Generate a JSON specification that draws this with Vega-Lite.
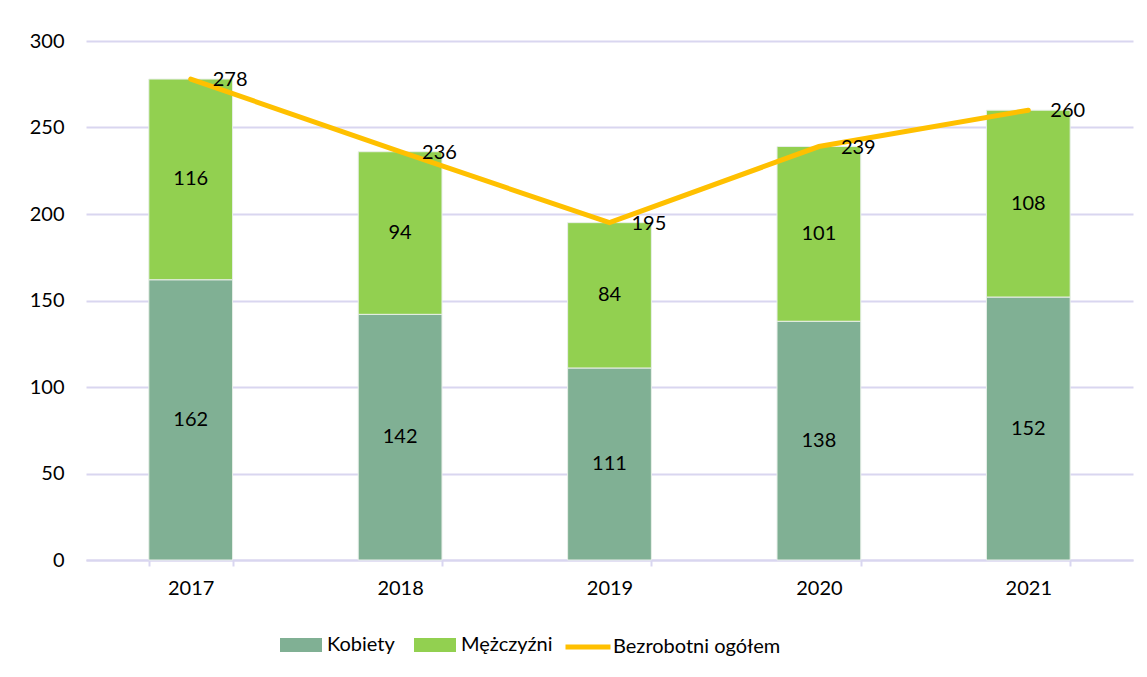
{
  "$schema": "https://vega.github.io/schema/vega-lite/v6.json",
  "autosize": "none",
  "width": 1047,
  "height": 519,
  "padding": {"left": 86, "top": 41, "right": 14, "bottom": 117},
  "background": "white",
  "config": {
    "font": "Lato",
    "view": {"stroke": null},
    "axis": {"labelFont": "Lato", "labelFontSize": 20, "labelColor": "#000000"},
    "legend": {"labelFont": "Lato", "labelFontSize": 20, "labelColor": "#000000"}
  },
  "datasets": {
    "parts": [
      {"year": "2017", "category": "Kobiety", "value": 162},
      {"year": "2017", "category": "Mężczyźni", "value": 116},
      {"year": "2018", "category": "Kobiety", "value": 142},
      {"year": "2018", "category": "Mężczyźni", "value": 94},
      {"year": "2019", "category": "Kobiety", "value": 111},
      {"year": "2019", "category": "Mężczyźni", "value": 84},
      {"year": "2020", "category": "Kobiety", "value": 138},
      {"year": "2020", "category": "Mężczyźni", "value": 101},
      {"year": "2021", "category": "Kobiety", "value": 152},
      {"year": "2021", "category": "Mężczyźni", "value": 108}
    ],
    "totals": [
      {"year": "2017", "total": 278, "series": "Bezrobotni ogółem"},
      {"year": "2018", "total": 236, "series": "Bezrobotni ogółem"},
      {"year": "2019", "total": 195, "series": "Bezrobotni ogółem"},
      {"year": "2020", "total": 239, "series": "Bezrobotni ogółem"},
      {"year": "2021", "total": 260, "series": "Bezrobotni ogółem"}
    ]
  },
  "encoding": {
    "x": {
      "field": "year",
      "type": "ordinal",
      "title": null,
      "scale": {"paddingInner": 0.6, "paddingOuter": 0.3},
      "axis": {
        "labelAngle": 0,
        "domainColor": "#d9d6f0",
        "domainWidth": 2,
        "tickColor": "#d9d6f0",
        "tickWidth": 2,
        "tickSize": 6,
        "tickBand": "extent",
        "labelPadding": 12,
        "grid": false
      }
    }
  },
  "layer": [
    {
      "data": {"name": "parts"},
      "mark": {"type": "bar", "stroke": "#e8efe9", "strokeWidth": 1},
      "encoding": {
        "y": {
          "field": "value",
          "type": "quantitative",
          "stack": "zero",
          "title": null,
          "scale": {"domain": [0, 300]},
          "axis": {
            "values": [0, 50, 100, 150, 200, 250, 300],
            "domain": false,
            "ticks": false,
            "labelPadding": 22,
            "gridColor": "#d9d6f0",
            "gridWidth": 2
          }
        },
        "order": {"field": "category", "sort": "ascending"},
        "color": {
          "field": "category",
          "type": "nominal",
          "scale": {
            "domain": ["Kobiety", "Mężczyźni"],
            "range": ["#80B094", "#92D050"]
          },
          "legend": {
            "title": null,
            "orient": "none",
            "direction": "horizontal",
            "legendX": 194,
            "legendY": 590,
            "symbolSize": 784,
            "symbolType": "M-1,-0.5H2V0.5H-1Z",
            "symbolStrokeWidth": 0,
            "symbolOpacity": 1,
            "labelOffset": 19,
            "labelLimit": 0,
            "columnPadding": 19
          }
        }
      }
    },
    {
      "data": {"name": "parts"},
      "transform": [
        {"stack": "value", "groupby": ["year"], "sort": [{"field": "category", "order": "ascending"}], "as": ["v0", "v1"]},
        {"fold": ["v0", "v1"], "as": ["edge", "pos"]},
        {"aggregate": [{"op": "mean", "field": "pos", "as": "mid"}], "groupby": ["year", "category", "value"]}
      ],
      "mark": {"type": "text", "fontSize": 20, "color": "#000000", "baseline": "middle", "align": "center"},
      "encoding": {
        "y": {"field": "mid", "type": "quantitative"},
        "text": {"field": "value", "type": "quantitative"}
      }
    },
    {
      "data": {"name": "totals"},
      "mark": {"type": "line", "strokeWidth": 5, "strokeCap": "round", "strokeJoin": "miter"},
      "encoding": {
        "y": {"field": "total", "type": "quantitative"},
        "stroke": {
          "field": "series",
          "type": "nominal",
          "scale": {"domain": ["Bezrobotni ogółem"], "range": ["#FFC000"]},
          "legend": {
            "title": null,
            "orient": "none",
            "legendX": 477,
            "legendY": 581,
            "symbolType": "stroke",
            "symbolSize": 2025,
            "symbolStrokeWidth": 5,
            "symbolOpacity": 1,
            "labelOffset": 0,
            "labelLimit": 0
          }
        }
      }
    },
    {
      "data": {"name": "totals"},
      "mark": {"type": "text", "fontSize": 20, "color": "#000000", "align": "left", "baseline": "middle", "dx": 22, "dy": 1},
      "encoding": {
        "y": {"field": "total", "type": "quantitative"},
        "text": {"field": "total", "type": "quantitative"}
      }
    }
  ]
}
